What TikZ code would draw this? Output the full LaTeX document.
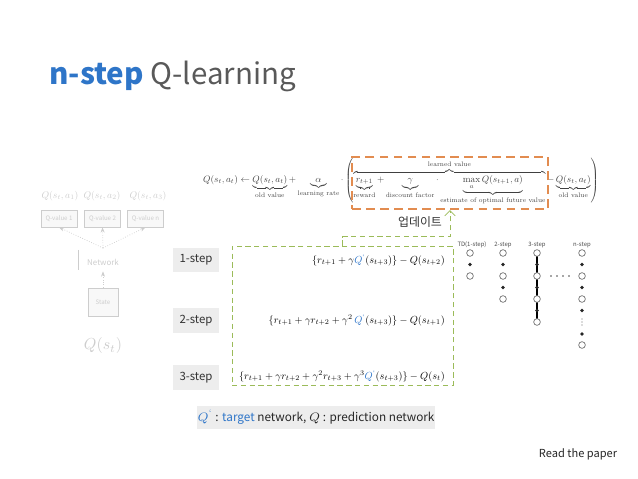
\documentclass[tikz,border=0pt]{standalone}
\usepackage{amsmath}
\usepackage{fontspec}
\newfontfamily\krfont{Noto Sans CJK KR}
\usetikzlibrary{arrows.meta,positioning}
\definecolor{titleblue}{RGB}{46,117,200}
\definecolor{titlegray}{RGB}{89,89,89}
\definecolor{boxgray}{RGB}{237,237,237}
\definecolor{updgreen}{RGB}{155,187,89}
\definecolor{updorange}{RGB}{226,140,80}
\definecolor{faint}{RGB}{205,205,205}

\begin{document}
\begin{tikzpicture}[
  x=0.02cm, y=-0.02cm,
  steplbl/.style={fill=boxgray, minimum width=0.94cm, minimum height=0.5cm, inner sep=0pt, font=\krfont\fontsize{6.5}{8}\selectfont, text=black!80},
  formula/.style={anchor=east, inner sep=0pt, scale=0.585, transform shape},
  qlbl/.style={text=faint, inner sep=0pt, scale=0.55, transform shape},
  qbox/.style={draw=faint, fill=boxgray!40, minimum width=0.72cm, minimum height=0.34cm, inner sep=0pt, font=\krfont\fontsize{3.5}{4}\selectfont, text=faint},
  farr/.style={-{Stealth[length=3pt]}, draw=faint, densely dotted},
  ocirc/.style={circle, draw=black!55, fill=white, minimum size=3.8pt, inner sep=0pt},
  dcirc/.style={circle, fill=black!85, minimum size=2.2pt, inner sep=0pt},
  tiny/.style={font=\krfont\fontsize{3.4}{4}\selectfont, text=black!70, inner sep=0pt}
]
\useasboundingbox (0,0) rectangle (638,479);

% title
\node[anchor=west, inner sep=0pt, font=\krfont\fontsize{16.8}{20}\selectfont] (title) at (49,76)
  {\textcolor{titleblue}{\bfseries n-step} \textcolor{titlegray}{Q-learning}};

% update rule (faded)
\node[inner sep=0pt, scale=0.533, transform shape, text=black!75] (rule) at (401,181)
  {$Q(s_t,a_t) \leftarrow \underbrace{Q(s_t,a_t)}_{\text{old value}} + \underbrace{\alpha}_{\text{learning rate}} \cdot
   \left( \overbrace{\underbrace{r_{t+1}}_{\text{reward}} + \underbrace{\gamma}_{\text{discount factor}} \cdot
   \underbrace{\max_a Q(s_{t+1},a)}_{\text{estimate of optimal future value}}}^{\text{learned value}}
   - \underbrace{Q(s_t,a_t)}_{\text{old value}} \right)$};
\node[draw=updorange, line width=1.3pt, dash pattern=on 5pt off 3pt, minimum width=3.92cm, minimum height=1.04cm] (learned) at (450,183) {};

\node[font=\krfont\fontsize{6.8}{8}\selectfont, text=black!80] (upd) at (420,222) {업데이트};

% n-step targets
\node[draw=updgreen, densely dashed, minimum width=4.42cm, minimum height=2.78cm] (steps) at (342.5,315.5) {};
\draw[updgreen, densely dashed, -{Straight Barb[length=3pt]}] (steps.north) -- ++(0,-9) -| (learned.south);

\node[steplbl] (s1) at (196,260) {1-step};
\node[steplbl, below=0.7cm of s1] (s2) {2-step};
\node[steplbl, below=0.62cm of s2] (s3) {3-step};

\node[formula] (f1) at (445,260) {$\{r_{t+1}+\gamma \textcolor{titleblue}{Q^{`}}(s_{t+3})\}-Q(s_{t+2})$};
\node[formula] (f2) at (445,320) {$\{r_{t+1}+\gamma r_{t+2}+\gamma^{2}\,\textcolor{titleblue}{Q^{`}}(s_{t+3})\}-Q(s_{t+1})$};
\node[formula] (f3) at (445,376) {$\{r_{t+1}+\gamma r_{t+2}+\gamma^{2} r_{t+3}+\gamma^{3}\textcolor{titleblue}{Q^{`}}(s_{t+3})\}-Q(s_{t})$};

\node[fill=boxgray, minimum width=4.78cm, minimum height=0.46cm, inner sep=0pt, font=\krfont\fontsize{6.7}{8}\selectfont, text=black!85] (note) at (316,417)
  {$\textcolor{titleblue}{Q^{`}}$ : \textcolor{titleblue}{target} network, $Q$ : prediction network};

\node[font=\krfont\fontsize{6.3}{7}\selectfont, text=black!85] (paper) at (578,454) {Read the paper};

% DQN sketch (faded)
\node[qlbl] (qa1) at (60,196) {$Q(s_t,a_1)$};
\node[qlbl] (qa2) at (102,196) {$Q(s_t,a_2)$};
\node[qlbl] (qa3) at (148,196) {$Q(s_t,a_3)$};
\node[qbox] (qv1) at (59,218.5) {Q-value 1};
\node[qbox] (qv2) at (102.5,218.5) {Q-value 2};
\node[qbox] (qv3) at (145.5,218.5) {Q-value n};
\coordinate (hub) at (103,248);
\draw[farr] (hub) -- (qv1.south);
\draw[farr] (hub) -- (qv2.south);
\draw[farr] (hub) -- (qv3.south);
\node[text=faint, font=\krfont\fontsize{4.5}{5}\selectfont] (net) at (103,262) {Network};
\draw[faint] (78,250) -- (78,270);
\node[qbox, minimum width=0.6cm, minimum height=0.56cm] (state) at (103,302) {State};
\draw[farr] (state) -- (net);
\node[qlbl, scale=1.65] (qst) at (103,346) {$Q(s_t)$};

% backup diagrams
\node[tiny] (b1) at (472,245) {TD(1-step)};
\node[tiny] (b2) at (503,245) {2-step};
\node[tiny] (b3) at (537,245) {3-step};
\node[tiny] (b4) at (582,245) {n-step};

\node[ocirc] (c1a) at (470,253) {};
\node[dcirc] (c1b) at (470,264.5) {};
\node[ocirc] (c1c) at (470,276) {};

\node[ocirc] (c2a) at (503,253) {};
\node[dcirc] (c2b) at (503,264.5) {};
\node[ocirc] (c2c) at (503,276) {};
\node[dcirc] (c2d) at (503,287.5) {};
\node[ocirc] (c2e) at (503,299) {};

\draw[line width=0.9pt] (537,253) -- (537,322);
\node[ocirc] (c3a) at (537,253) {};
\node[dcirc] (c3b) at (537,264.5) {};
\node[ocirc] (c3c) at (537,276) {};
\node[dcirc] (c3d) at (537,287.5) {};
\node[ocirc] (c3e) at (537,299) {};
\node[dcirc] (c3f) at (537,310.5) {};
\node[ocirc] (c3g) at (537,322) {};

\foreach \x in {551,557,563,569}
  \fill[black!70] (\x,276) circle (0.45pt);

\node[ocirc] (c4a) at (582,253) {};
\node[dcirc] (c4b) at (582,264.5) {};
\node[ocirc] (c4c) at (582,276) {};
\node[dcirc] (c4d) at (582,287.5) {};
\node[ocirc] (c4e) at (582,299) {};
\node[dcirc] (c4f) at (582,310.5) {};
\foreach \y in {319,322,325}
  \fill[black!60] (582,\y) circle (0.3pt);
\node[dcirc] (c4g) at (582,334) {};
\node[ocirc] (c4h) at (582,345) {};
\end{tikzpicture}
\end{document}
